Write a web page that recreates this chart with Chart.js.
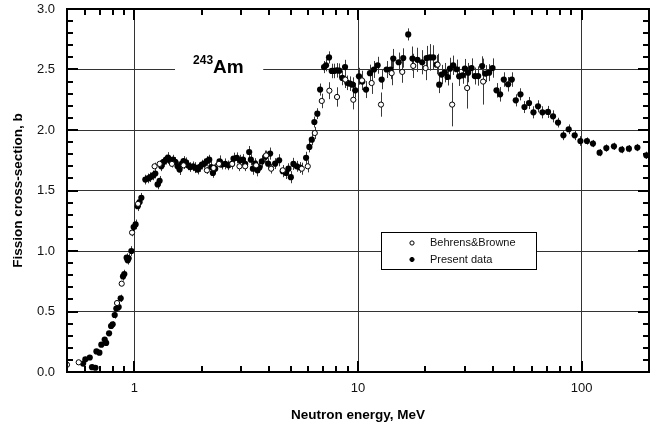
<!DOCTYPE html>
<html>
<head>
<meta charset="utf-8">
<script src="https://cdn.jsdelivr.net/npm/chart.js@4.4.0/dist/chart.umd.min.js"></script>
<style>
  html, body { margin: 0; padding: 0; background: #fff; }
  #wrap { width: 661px; height: 429px; }
</style>
</head>
<body>
<div id="wrap"><canvas id="c" width="661" height="429"></canvas></div>
<script>
// 243Am neutron-induced fission cross-section (barn) vs neutron energy (MeV)

// Present data
const presentEnergy = [
  0.590, 0.604, 0.632, 0.647, 0.670, 0.677, 0.698, 0.712, 0.737, 0.748,
  0.771, 0.787, 0.800, 0.817, 0.831, 0.851, 0.869, 0.890, 0.902, 0.924,
  0.934, 0.943, 0.970, 0.993, 1.013, 1.035, 1.056, 1.075,
  1.120, 1.151, 1.179, 1.212, 1.241, 1.271, 1.297, 1.320, 1.351, 1.385,
  1.414, 1.448, 1.489, 1.524, 1.561, 1.593, 1.633, 1.660, 1.701, 1.737,
  1.778, 1.828, 1.872, 1.917, 1.956, 2.005, 2.054, 2.111, 2.162, 2.207,
  2.245, 2.299, 2.404, 2.463, 2.548, 2.636, 2.730, 2.776, 2.873, 2.973,
  3.057, 3.130, 3.262, 3.319, 3.388, 3.469, 3.551, 3.625, 3.716, 3.857,
  3.965, 4.047, 4.261, 4.440, 4.610, 4.770, 4.886, 5.008, 5.143, 5.325,
  5.510, 5.860, 6.060, 6.215, 6.382, 6.580, 6.770, 7.050, 7.196, 7.420,
  7.630, 7.810, 8.035, 8.250, 8.510, 8.750, 8.960, 9.210, 9.470, 9.720,
  10.10, 10.45, 10.86, 11.31, 11.79, 12.24, 12.76, 13.43, 14.00, 14.38,
  15.20, 15.93, 16.77, 17.52, 18.44, 19.36, 20.26, 20.97, 21.69, 22.46,
  23.07, 23.65, 24.45, 25.14, 25.75, 26.64, 27.59, 28.34, 29.35, 30.05,
  31.08, 32.19, 33.30, 34.45, 35.89, 37.17, 38.57, 39.94, 41.62, 43.19,
  44.86, 46.88, 48.70, 50.75, 53.25, 55.49, 58.18, 60.88, 63.82, 66.78,
  70.73, 74.46, 78.38, 82.85, 87.50, 93.07, 98.70, 105.6, 112.3, 120.3,
  128.9, 139.4, 150.9, 162.6, 177.4, 194.5
];
const presentSigma = [
  0.070, 0.105, 0.120, 0.040, 0.035, 0.170, 0.160, 0.226, 0.268, 0.240,
  0.320, 0.380, 0.394, 0.471, 0.524, 0.537, 0.609, 0.790, 0.810, 0.945,
  0.923, 0.940, 1.000, 1.198, 1.220, 1.370, 1.405, 1.440,
  1.590, 1.600, 1.610, 1.625, 1.640, 1.550, 1.580, 1.700, 1.736, 1.755,
  1.772, 1.744, 1.755, 1.736, 1.700, 1.673, 1.722, 1.744, 1.733, 1.708,
  1.694, 1.700, 1.689, 1.673, 1.694, 1.714, 1.722, 1.744, 1.755, 1.694,
  1.645, 1.680, 1.740, 1.714, 1.720, 1.708, 1.720, 1.763, 1.770, 1.750,
  1.755, 1.720, 1.818, 1.755, 1.680, 1.722, 1.667, 1.690, 1.740, 1.780,
  1.722, 1.805, 1.722, 1.750, 1.660, 1.645, 1.680, 1.610, 1.720, 1.700,
  1.690, 1.770, 1.860, 1.920, 2.066, 2.135, 2.334, 2.520, 2.535, 2.600,
  2.488, 2.488, 2.493, 2.490, 2.430, 2.520, 2.390, 2.383, 2.375, 2.328,
  2.444, 2.400, 2.334, 2.470, 2.500, 2.535, 2.417, 2.500, 2.500, 2.590,
  2.560, 2.595, 2.790, 2.590, 2.580, 2.560, 2.595, 2.600, 2.600, 2.540,
  2.375, 2.458, 2.474, 2.438, 2.507, 2.535, 2.502, 2.444, 2.452, 2.507,
  2.474, 2.512, 2.446, 2.446, 2.529, 2.466, 2.474, 2.512, 2.328, 2.295,
  2.417, 2.378, 2.417, 2.245, 2.295, 2.190, 2.223, 2.146, 2.196, 2.146,
  2.149, 2.113, 2.061, 1.956, 2.006, 1.956, 1.909, 1.909, 1.888, 1.813,
  1.851, 1.865, 1.838, 1.846, 1.855, 1.791
];
const presentError = [
  0.020, 0.020, 0.020, 0.015, 0.015, 0.020, 0.020, 0.020, 0.020, 0.020,
  0.020, 0.025, 0.025, 0.030, 0.030, 0.030, 0.030, 0.035, 0.035, 0.035,
  0.035, 0.035, 0.040, 0.040, 0.040, 0.040, 0.040, 0.040,
  0.040, 0.040, 0.040, 0.040, 0.040, 0.040, 0.040, 0.040, 0.040, 0.040,
  0.045, 0.040, 0.040, 0.040, 0.040, 0.045, 0.040, 0.040, 0.040, 0.040,
  0.040, 0.040, 0.045, 0.040, 0.040, 0.040, 0.040, 0.040, 0.040, 0.045,
  0.040, 0.045, 0.050, 0.040, 0.045, 0.040, 0.045, 0.050, 0.045, 0.045,
  0.045, 0.050, 0.050, 0.045, 0.050, 0.045, 0.050, 0.045, 0.050, 0.050,
  0.045, 0.050, 0.045, 0.050, 0.050, 0.050, 0.045, 0.050, 0.050, 0.045,
  0.045, 0.050, 0.045, 0.045, 0.045, 0.045, 0.050, 0.050, 0.050, 0.050,
  0.060, 0.060, 0.060, 0.060, 0.060, 0.060, 0.060, 0.060, 0.060, 0.060,
  0.070, 0.070, 0.070, 0.070, 0.070, 0.070, 0.080, 0.070, 0.080, 0.080,
  0.080, 0.080, 0.050, 0.100, 0.100, 0.100, 0.100, 0.110, 0.100, 0.080,
  0.070, 0.080, 0.080, 0.070, 0.090, 0.080, 0.080, 0.080, 0.070, 0.080,
  0.080, 0.080, 0.070, 0.080, 0.080, 0.070, 0.070, 0.080, 0.060, 0.060,
  0.060, 0.060, 0.060, 0.050, 0.050, 0.050, 0.050, 0.050, 0.050, 0.050,
  0.050, 0.050, 0.040, 0.040, 0.040, 0.040, 0.040, 0.030, 0.030, 0.030,
  0.030, 0.030, 0.030, 0.030, 0.030, 0.030
];

// Behrens & Browne
const bbEnergy = [
  0.500, 0.564, 0.837, 0.878, 0.977, 1.039, 1.232, 1.297, 1.473, 1.660,
  2.111, 2.260, 2.390, 2.738, 2.952, 3.130, 3.504, 3.884, 4.090, 4.610,
  5.607, 5.963, 6.410, 6.887, 7.446, 8.058, 8.778, 9.528, 10.42, 11.51,
  12.67, 14.14, 15.77, 17.66, 20.05, 22.69, 26.36, 30.76, 36.26
];
const bbSigma = [
  0.060, 0.080, 0.570, 0.730, 1.152, 1.390, 1.700, 1.720, 1.720, 1.708,
  1.667, 1.686, 1.720, 1.720, 1.700, 1.700, 1.708, 1.790, 1.680, 1.667,
  1.680, 1.700, 1.975, 2.240, 2.325, 2.273, 2.417, 2.250, 2.410, 2.388,
  2.210, 2.470, 2.480, 2.530, 2.512, 2.540, 2.210, 2.347, 2.400
];
const bbError = [
  0.010, 0.010, 0.020, 0.020, 0.030, 0.030, 0.030, 0.030, 0.030, 0.030,
  0.030, 0.030, 0.030, 0.040, 0.040, 0.040, 0.040, 0.040, 0.040, 0.040,
  0.050, 0.050, 0.050, 0.060, 0.070, 0.080, 0.070, 0.080, 0.080, 0.090,
  0.100, 0.100, 0.090, 0.100, 0.100, 0.090, 0.180, 0.170, 0.190
];

// Axis tick labels
const xTickValues = [1, 10, 100];
const yTickValues = [0, 0.5, 1.0, 1.5, 2.0, 2.5, 3.0];

const FONT = "'Liberation Sans', Arial, Helvetica, sans-serif";
Chart.defaults.font.family = FONT;

function toPoints(xs, ys) {
  return xs.map((x, i) => ({ x: x, y: ys[i] }));
}

// Vertical error bars, drawn under the markers
const errorBarPlugin = {
  id: 'errorBars',
  beforeDatasetsDraw(chart) {
    const ctx = chart.ctx;
    const xs = chart.scales.x, ys = chart.scales.y;
    const area = chart.chartArea;
    ctx.save();
    ctx.beginPath();
    ctx.rect(area.left, area.top, area.right - area.left, area.bottom - area.top);
    ctx.clip();
    ctx.strokeStyle = '#3a3a3a';
    ctx.lineWidth = 1;
    chart.data.datasets.forEach(ds => {
      const errs = ds.errorValues || [];
      ds.data.forEach((p, i) => {
        const e = errs[i];
        if (!e) return;
        const px = Math.round(xs.getPixelForValue(p.x)) + 0.5;
        ctx.beginPath();
        ctx.moveTo(px, ys.getPixelForValue(p.y - e));
        ctx.lineTo(px, ys.getPixelForValue(p.y + e));
        ctx.stroke();
      });
    });
    ctx.restore();
  }
};

// Nuclide label sitting on the 2.5 b grid line
const nuclideLabelPlugin = {
  id: 'nuclideLabel',
  beforeDatasetsDraw(chart) {
    const ctx = chart.ctx;
    const xs = chart.scales.x, ys = chart.scales.y;
    const y = ys.getPixelForValue(2.5);
    const gapL = xs.getPixelForValue(1.52), gapR = xs.getPixelForValue(3.77);
    ctx.save();
    ctx.fillStyle = '#fff';
    ctx.fillRect(gapL, y - 3, gapR - gapL, 6);
    const x0 = xs.getPixelForValue(1.83);
    ctx.fillStyle = '#000';
    ctx.textBaseline = 'alphabetic';
    ctx.textAlign = 'left';
    ctx.font = 'bold 12px ' + FONT;
    ctx.fillText('243', x0, y - 6);
    const w = ctx.measureText('243').width;
    ctx.font = 'bold 19px ' + FONT;
    ctx.fillText('Am', x0 + w, y + 3);
    ctx.restore();
  }
};

// Box frame, inward minor/major ticks and the legend box
const framePlugin = {
  id: 'frame',
  afterDatasetsDraw(chart) {
    const ctx = chart.ctx;
    const xs = chart.scales.x, ys = chart.scales.y;
    const a = chart.chartArea;
    ctx.save();
    ctx.strokeStyle = '#000';
    ctx.lineWidth = 2;
    ctx.lineCap = 'butt';
    // ticks on the energy axis (bottom and top)
    for (let d = 0.1; d <= 100; d *= 10) {
      for (let k = 1; k <= 9; k++) {
        const v = d * k;
        if (v <= xs.min || v >= xs.max) continue;
        const px = Math.round(xs.getPixelForValue(v));
        const len = (k === 1) ? 11 : 6;
        ctx.beginPath();
        ctx.moveTo(px, a.bottom); ctx.lineTo(px, a.bottom - len);
        ctx.moveTo(px, a.top); ctx.lineTo(px, a.top + len);
        ctx.stroke();
      }
    }
    // ticks on the cross-section axis (left and right)
    for (let i = 1; i < 30; i++) {
      const v = i / 10;
      const py = Math.round(ys.getPixelForValue(v));
      const len = (i % 5 === 0) ? 11 : 6;
      ctx.beginPath();
      ctx.moveTo(a.left, py); ctx.lineTo(a.left + len, py);
      ctx.moveTo(a.right, py); ctx.lineTo(a.right - len, py);
      ctx.stroke();
    }
    ctx.strokeRect(a.left, a.top, a.right - a.left, a.bottom - a.top);

    // legend
    const lx = a.left + 314, ly = a.top + 223, lw = 155, lh = 37;
    ctx.fillStyle = '#fff';
    ctx.fillRect(lx, ly, lw, lh);
    ctx.lineWidth = 1;
    ctx.strokeStyle = '#000';
    ctx.strokeRect(lx + 0.5, ly + 0.5, lw, lh);
    ctx.font = '11px ' + FONT;
    ctx.textBaseline = 'middle';
    ctx.textAlign = 'left';
    chart.data.datasets.forEach((ds, i) => {
      const cy = ly + 11 + i * 16.5;
      ctx.beginPath();
      ctx.arc(lx + 31, cy, 2.1, 0, Math.PI * 2);
      ctx.fillStyle = ds.backgroundColor;
      ctx.fill();
      ctx.lineWidth = 1;
      ctx.strokeStyle = '#000';
      ctx.stroke();
      ctx.fillStyle = '#111';
      ctx.fillText(ds.label, lx + 49, cy);
    });
    ctx.restore();
  }
};

new Chart(document.getElementById('c'), {
  type: 'scatter',
  data: {
    datasets: [
      {
        label: 'Behrens&Browne',
        data: toPoints(bbEnergy, bbSigma),
        errorValues: bbError,
        pointRadius: 2.6,
        pointHoverRadius: 2.6,
        backgroundColor: '#fff',
        borderColor: '#000',
        borderWidth: 1,
        showLine: false
      },
      {
        label: 'Present data',
        data: toPoints(presentEnergy, presentSigma),
        errorValues: presentError,
        pointRadius: 3.1,
        pointHoverRadius: 3.1,
        backgroundColor: '#000',
        borderColor: '#000',
        borderWidth: 0,
        showLine: false
      }
    ]
  },
  options: {
    responsive: false,
    animation: false,
    devicePixelRatio: 1,
    layout: { padding: { left: 0, right: 12, top: 0, bottom: 0 } },
    plugins: {
      legend: { display: false },
      tooltip: { enabled: false }
    },
    scales: {
      x: {
        type: 'logarithmic',
        position: 'bottom',
        min: 0.5,
        max: 200,
        bounds: 'data',
        afterBuildTicks: s => { s.ticks = xTickValues.map(v => ({ value: v })); },
        afterFit: s => { s.height = 57; },
        grid: { color: '#333', lineWidth: 1, drawTicks: false },
        border: { display: false },
        ticks: {
          autoSkip: false,
          maxRotation: 0,
          padding: 9,
          color: '#111',
          font: { size: 13 },
          callback: v => String(v)
        },
        title: {
          display: true,
          text: 'Neutron energy, MeV',
          color: '#000',
          font: { size: 13.5, weight: 'bold' },
          padding: { top: 0, bottom: 6 }
        }
      },
      y: {
        type: 'linear',
        position: 'left',
        min: 0,
        max: 3,
        afterBuildTicks: s => { s.ticks = yTickValues.map(v => ({ value: v })); },
        afterFit: s => { s.width = 67; s.paddingTop = 9; s.paddingBottom = 0; },
        grid: { color: '#333', lineWidth: 1, drawTicks: false },
        border: { display: false },
        ticks: {
          padding: 12,
          color: '#111',
          font: { size: 13 },
          callback: v => Number(v).toFixed(1)
        },
        title: {
          display: true,
          text: 'Fission cross-section, b',
          color: '#000',
          font: { size: 13.5, weight: 'bold' },
          padding: { top: 10, bottom: 0 }
        }
      }
    }
  },
  plugins: [errorBarPlugin, nuclideLabelPlugin, framePlugin]
});
</script>
</body>
</html>
